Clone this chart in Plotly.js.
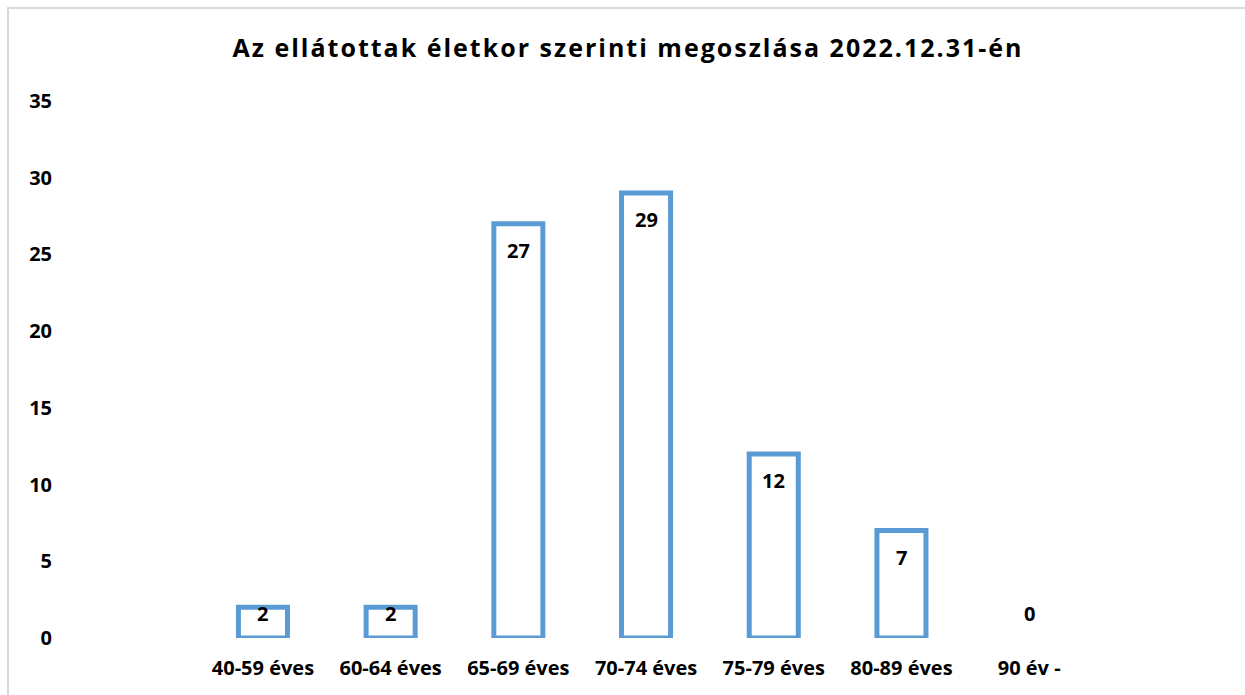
<!DOCTYPE html>
<html>
<head>
<meta charset="utf-8">
<script src="https://cdn.plot.ly/plotly-3.0.1.min.js"></script>
<style>
  html, body { margin: 0; padding: 0; background: #ffffff; }
  #wrap { position: relative; width: 1245px; height: 695px; overflow: hidden; }
  #chart { width: 1245px; height: 695px; }
  #frame { position: absolute; left: 7px; top: 7px; width: 1300px; height: 800px;
           border-left: 2px solid #d9d9d9; border-top: 2px solid #d9d9d9; pointer-events: none; }
  .gtitle { letter-spacing: 2px; }
</style>
</head>
<body>
<div id="wrap">
  <div id="chart"></div>
  <div id="frame"></div>
</div>
<script>
const categories = ["40-59 éves", "60-64 éves", "65-69 éves", "70-74 éves", "75-79 éves", "80-89 éves", "90 év -"];
const values = [2, 2, 27, 29, 12, 7, 0];
const yTicks = [0, 5, 10, 15, 20, 25, 30, 35];
const chartTitle = "Az ellátottak életkor szerinti megoszlása 2022.12.31-én";

const W = 1245, H = 695;
const mt = 101, mb = 57, ml = 53, mr = 152;
const yMax = 35;
const ppu = (H - mt - mb) / yMax;

const fontFam = "'Open Sans', 'DejaVu Sans', sans-serif";
const labelFont = { family: fontFam, size: 20, color: "#000000", weight: 700 };

const annotations = values.map((v, i) => ({
  x: categories[i],
  y: Math.max(v - 26.7 / ppu, 24.3 / ppu),
  xref: "x", yref: "y",
  text: String(v),
  showarrow: false,
  xanchor: "center", yanchor: "middle",
  font: labelFont
}));

const trace = {
  type: "bar",
  x: categories,
  y: values,
  width: 0.384,
  marker: {
    color: "#ffffff",
    line: { color: "#5b9bd5", width: values.map(v => (v > 0 ? 5 : 0)) }
  },
  hoverinfo: "skip"
};

const layout = {
  width: W, height: H,
  margin: { l: ml, r: mr, t: mt, b: mb, pad: 0 },
  paper_bgcolor: "#ffffff",
  plot_bgcolor: "#ffffff",
  showlegend: false,
  title: {
    text: chartTitle,
    font: { family: fontFam, size: 25, color: "#000000", weight: 700 },
    x: 628 / W, xanchor: "center", xref: "container",
    y: 1 - 48 / H, yanchor: "middle", yref: "container"
  },
  xaxis: {
    type: "category",
    range: [-1.644, 6.5],
    showgrid: false, zeroline: false, showline: false, ticks: "",
    tickfont: labelFont,
    ticklabelstandoff: 16,
    fixedrange: true
  },
  yaxis: {
    range: [0, yMax],
    tickvals: yTicks,
    ticktext: yTicks.map(String),
    showgrid: false, zeroline: false, showline: false, ticks: "",
    tickfont: labelFont,
    fixedrange: true
  },
  annotations: annotations
};

Plotly.newPlot("chart", [trace], layout, { displayModeBar: false, staticPlot: true });
</script>
</body>
</html>
